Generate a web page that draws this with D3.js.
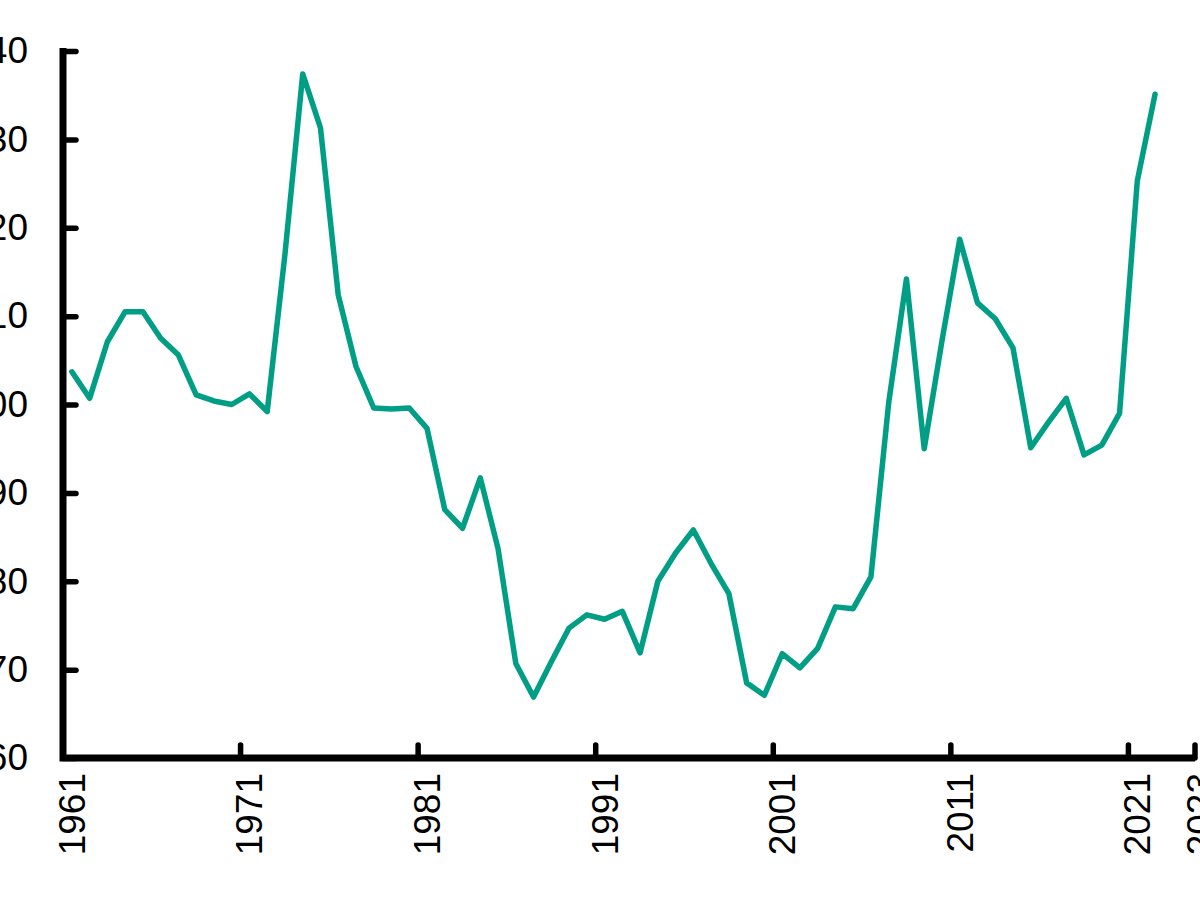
<!DOCTYPE html>
<html>
<head>
<meta charset="utf-8">
<script src="https://cdn.jsdelivr.net/npm/d3@7"></script>
<style>
  html, body { margin: 0; padding: 0; background: #fff; overflow: hidden; }
  text { font-family: "Liberation Sans", Arial, sans-serif; fill: #000; }
</style>
</head>
<body>
<div id="chart"></div>
<script>
/* data: one value per year, 1961-2022 */
const firstYear = 1961;
const values = [
  103.7, 100.7, 107.1, 110.5, 110.5, 107.5, 105.6, 101.1, 100.4, 100.0,
  101.2, 99.2, 117.0, 137.4, 131.3, 112.4, 104.3, 99.6, 99.5, 99.6,
  97.3, 88.1, 86.0, 91.7, 83.7, 70.7, 66.9, 70.9, 74.7, 76.2,
  75.7, 76.6, 71.9, 80.0, 83.2, 85.8, 82.0, 78.6, 68.5, 67.1,
  71.8, 70.2, 72.4, 77.1, 76.9, 80.5, 100.2, 114.2, 95.0, 107.2,
  118.7, 111.5, 109.7, 106.4, 95.1, 98.0, 100.7, 94.3, 95.4, 99.0,
  125.3, 135.1
];
const years = values.map((v, i) => firstYear + i);

/* y axis ticks */
const yTicks = [60, 70, 80, 90, 100, 110, 120, 130, 140];

/* x axis: labels every 10 years, plus the cut-off one at the end */
const xLabelYears = [1961, 1971, 1981, 1991, 2001, 2011, 2021];
const lastLabel = "2023";
const xDomain = [1960.5, 2024.25];

// layout
const margin = {top: 51, left: 63, right: 5, bottom: 142};
const W = 1200, H = 900;
const lineColor = "#009e84";

const svg = d3.select("#chart")
  .append("svg")
  .attr("width", W)
  .attr("height", H);

/* scales */
const x = d3.scaleLinear()
  .domain(xDomain)
  .range([margin.left, W - margin.right]);

const y = d3.scaleLinear()
  .domain([60, 140])
  .range([H - margin.bottom, margin.top]);

const data = years.map((yr, i) => ({year: yr, value: values[i]}));

/* y axis: ticks inside, labels cut at left edge */
const yAxis = d3.axisLeft(y)
  .tickValues(yTicks)
  .tickSizeInner(-13)
  .tickSizeOuter(0)
  .tickPadding(35);

const yG = svg.append("g")
  .attr("transform", `translate(${margin.left},0)`)
  .call(yAxis);

yG.select(".domain").remove();
yG.selectAll(".tick line")
  .attr("stroke", "#000")
  .attr("stroke-width", 5.5)
  .attr("stroke-linecap", "round");
yG.selectAll(".tick text")
  .style("font-size", "37px")
  .attr("fill", "#000");

/* x axis: boundaries between decades get ticks */
const xTickYears = d3.range(1970.5, 2021, 10).concat([xDomain[1]]);
const x0 = H - margin.bottom;

svg.append("g")
  .selectAll("line")
  .data(xTickYears)
  .join("line")
    .attr("x1", d => x(d))
    .attr("x2", d => x(d))
    .attr("y1", x0)
    .attr("y2", x0 - 13)
    .attr("stroke", "#000")
    .attr("stroke-width", 5.5)
    .attr("stroke-linecap", "round");

/* axis lines */
svg.append("path")
  .attr("d", `M${x(xDomain[0])},${y(140) - 3}V${x0}H${x(xDomain[1])}`)
  .attr("fill", "none")
  .attr("stroke", "#000")
  .attr("stroke-width", 7);

/* rotated x labels */
const labelData = xLabelYears.map(d => ({text: String(d), pos: x(d)}))
  .concat([{text: lastLabel, pos: x(xDomain[1]) + 5}]);

svg.append("g")
  .selectAll("text")
  .data(labelData)
  .join("text")
    .attr("transform", d => `translate(${d.pos},${x0 + 15}) rotate(-90)`)
    .attr("text-anchor", "end")
    .attr("dy", "0.35em")
    .style("font-size", "37px")
    .text(d => d.text);

/* the series line */
const line = d3.line()
  .x(d => x(d.year))
  .y(d => y(d.value));

svg.append("path")
  .datum(data)
  .attr("d", line)
  .attr("fill", "none")
  .attr("stroke", lineColor)
  .attr("stroke-width", 5.5)
  .attr("stroke-linejoin", "round")
  .attr("stroke-linecap", "round");
</script>
</body>
</html>
